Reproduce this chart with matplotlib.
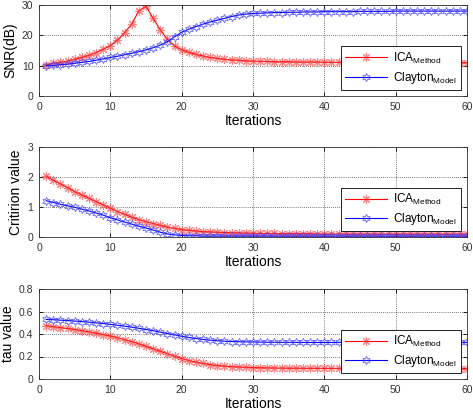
import matplotlib
matplotlib.use("Agg")
import matplotlib.pyplot as plt
import numpy as np

plt.rcParams['font.family'] = ['Liberation Sans', 'DejaVu Sans']
plt.rcParams['mathtext.default'] = 'regular'

iterations = list(range(1, 61))

snr_ica = [10.2, 10.8, 11.1, 11.5, 12.1, 12.7, 13.4, 14.3, 15.4, 16.6,
           18.5, 20.9, 23.7, 28.1, 29.6, 25.6, 21.8, 18.7, 16.5, 15.2,
           14.4, 13.7, 13.2, 12.7, 12.4, 12.1, 11.9, 11.8, 11.6, 11.5,
           11.4, 11.4, 11.3, 11.3, 11.3, 11.2, 11.2, 11.2, 11.2, 11.1,
           11.1, 11.1, 11.1, 11.1, 11.1, 11.0, 11.0, 11.0, 11.0, 11.0,
           11.0, 11.0, 11.0, 11.0, 11.0, 11.0, 11.0, 11.0, 11.0, 11.0]
snr_clayton = [10.0, 10.1, 10.3, 10.5, 10.8, 11.1, 11.4, 11.8, 12.2, 12.7,
               13.1, 13.6, 14.1, 14.6, 15.2, 15.9, 16.8, 17.9, 19.5, 21.0,
               22.0, 22.9, 23.7, 24.4, 25.0, 25.6, 26.2, 26.7, 27.0, 27.2,
               27.3, 27.4, 27.5, 27.5, 27.6, 27.6, 27.7, 27.7, 27.7, 27.8,
               27.8, 27.8, 27.8, 27.8, 27.9, 27.9, 27.9, 27.9, 27.9, 28.0,
               28.0, 28.0, 28.0, 28.0, 28.0, 28.0, 28.0, 28.0, 28.0, 28.0]

crit_ica = [2.03, 1.89, 1.77, 1.64, 1.51, 1.40, 1.29, 1.18, 1.07, 0.96,
            0.85, 0.76, 0.66, 0.58, 0.51, 0.45, 0.39, 0.33, 0.29, 0.25,
            0.22, 0.20, 0.18, 0.17, 0.16, 0.15, 0.14, 0.14, 0.13, 0.13,
            0.12, 0.12, 0.12, 0.11, 0.11, 0.11, 0.11, 0.11, 0.10, 0.10,
            0.10, 0.10, 0.10, 0.10, 0.10, 0.10, 0.10, 0.10, 0.10, 0.10,
            0.10, 0.10, 0.10, 0.10, 0.10, 0.10, 0.10, 0.10, 0.10, 0.10]
crit_clayton = [1.21, 1.15, 1.09, 1.04, 0.99, 0.93, 0.87, 0.80, 0.73, 0.64,
                0.57, 0.50, 0.43, 0.36, 0.30, 0.23, 0.16, 0.10, 0.07, 0.05,
                0.04, 0.04, 0.03, 0.03, 0.03, 0.03, 0.03, 0.03, 0.03, 0.03,
                0.03, 0.03, 0.03, 0.03, 0.03, 0.03, 0.03, 0.03, 0.03, 0.03,
                0.03, 0.03, 0.03, 0.03, 0.03, 0.03, 0.03, 0.03, 0.03, 0.03,
                0.03, 0.03, 0.03, 0.03, 0.03, 0.03, 0.03, 0.03, 0.03, 0.03]

tau_ica = [0.475, 0.465, 0.457, 0.449, 0.440, 0.430, 0.420, 0.408, 0.395, 0.382,
           0.367, 0.350, 0.332, 0.312, 0.290, 0.268, 0.246, 0.225, 0.203, 0.182,
           0.164, 0.150, 0.138, 0.128, 0.120, 0.114, 0.110, 0.106, 0.104, 0.102,
           0.100, 0.099, 0.098, 0.097, 0.096, 0.096, 0.095, 0.095, 0.095, 0.094,
           0.094, 0.094, 0.094, 0.093, 0.093, 0.093, 0.093, 0.093, 0.093, 0.093,
           0.093, 0.093, 0.093, 0.093, 0.093, 0.093, 0.093, 0.093, 0.093, 0.093]
tau_clayton = [0.530, 0.527, 0.523, 0.519, 0.515, 0.510, 0.505, 0.499, 0.493, 0.486,
               0.478, 0.470, 0.461, 0.451, 0.440, 0.429, 0.417, 0.404, 0.392, 0.380,
               0.369, 0.360, 0.352, 0.345, 0.340, 0.336, 0.333, 0.331, 0.330, 0.329,
               0.328, 0.327, 0.327, 0.326, 0.326, 0.326, 0.325, 0.325, 0.325, 0.325,
               0.325, 0.325, 0.325, 0.325, 0.325, 0.325, 0.325, 0.325, 0.325, 0.325,
               0.325, 0.325, 0.325, 0.325, 0.325, 0.325, 0.325, 0.325, 0.325, 0.325]

labels = ['ICA$_{Method}$', 'Clayton$_{Model}$']
ylabels = ['SNR(dB)', 'Critirion value', 'tau value']
yticks = [[0, 10, 20, 30], [0, 1, 2, 3], [0, 0.2, 0.4, 0.6, 0.8]]
ylims = [(0, 30), (0, 3), (0, 0.8)]
xticks = [0, 10, 20, 30, 40, 50, 60]
series = [(snr_ica, snr_clayton), (crit_ica, crit_clayton), (tau_ica, tau_clayton)]

W, H = 473, 412
fig = plt.figure(figsize=(W / 100, H / 100), dpi=100)
boxes = [(5, 96), (147, 237), (289, 379)]
left, right = 39, 467

for (top, bot), (s_ica, s_cl), yl, yt, ylim in zip(boxes, series, ylabels, yticks, ylims):
    ax = fig.add_axes([left / W, 1 - bot / H, (right - left) / W, (bot - top) / H])
    ax.plot(iterations, s_ica, color='red', lw=0.8, marker=(8, 2, 0), ms=6.5,
            mec=(1, 0.2, 0.2, 0.6), mew=0.8, label=labels[0])
    ax.plot(iterations, s_cl, color='blue', lw=0.8, marker=(6, 1, 0), ms=6,
            mfc='none', mec=(0.25, 0.25, 1, 0.7), mew=0.7, label=labels[1])
    ax.set_xlim(0, 60)
    ax.set_ylim(*ylim)
    ax.set_xticks(xticks)
    ax.set_yticks(yt)
    ax.set_yticklabels([f'{v:g}' for v in yt])
    ax.tick_params(direction='in', labelsize=7.5, length=3, width=0.6, pad=4,
                   top=True, right=True, colors='black', labelcolor='#333333')
    ax.grid(True, color='black', linestyle=(0, (1, 2)), linewidth=0.5)
    for sp in ax.spines.values():
        sp.set_linewidth(0.6)
        sp.set_color('#333333')
    ax.set_xlabel('Iterations', fontsize=10, labelpad=1.5)
    ax.set_ylabel(yl, fontsize=10, labelpad=3)
    leg = ax.legend(loc='lower right', fontsize=8.5, fancybox=False,
                    edgecolor='black', framealpha=1, handlelength=3.6,
                    handletextpad=0.5, borderpad=0.35, labelspacing=0.35,
                    borderaxespad=0, bbox_to_anchor=(0.986, 0.066))
    leg.get_frame().set_linewidth(0.6)

fig.savefig('out.png', dpi=100)
